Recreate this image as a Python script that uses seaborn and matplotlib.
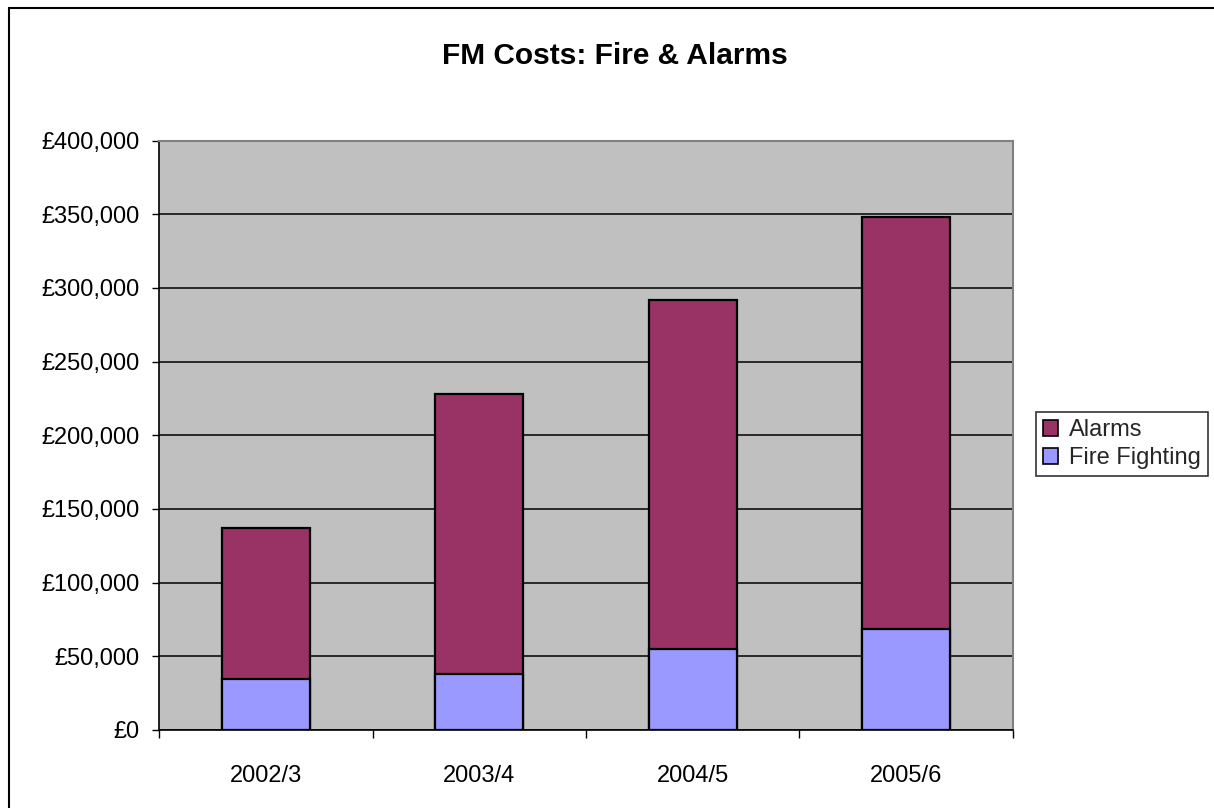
import matplotlib
matplotlib.use("Agg")
import matplotlib.pyplot as plt
import seaborn as sns
import pandas as pd
import numpy as np
from matplotlib.patches import Rectangle, Patch
from matplotlib.ticker import FuncFormatter, FixedLocator

# ---- data ----
years = ["2002/3", "2003/4", "2004/5", "2005/6"]
fire_fighting = [34800, 37800, 55200, 68800]
alarms = [102200, 190200, 236600, 279600]
series_names = ["Alarms", "Fire Fighting"]
y_ticks = [0, 50000, 100000, 150000, 200000, 250000, 300000, 350000, 400000]

sns.set_theme(style="white")
plt.rcParams['font.family'] = ['Liberation Sans', 'DejaVu Sans']

ALARM_C = "#993366"
FIRE_C = "#9999FF"

df = pd.DataFrame({"year": years,
                   "fire": fire_fighting,
                   "alarms": alarms})
df["total"] = df["fire"] + df["alarms"]

fig = plt.figure(figsize=(12.14, 8.08), dpi=100)
fig.patch.set_facecolor("white")
ax = fig.add_axes([159/1214, 1-730/808, (1013-159)/1214, (730-140.6)/808])
ax.set_facecolor("#C0C0C0")

sns.barplot(data=df, x="year", y="total", color=ALARM_C, saturation=1,
            width=0.41, edgecolor="black", linewidth=1.6, ax=ax, zorder=3)
sns.barplot(data=df, x="year", y="fire", color=FIRE_C, saturation=1,
            width=0.41, edgecolor="black", linewidth=1.6, ax=ax, zorder=4)

ax.set_xlim(-0.5, len(years) - 0.5)
ax.set_ylim(0, 400000)
ax.set_yticks(y_ticks)
ax.yaxis.set_major_formatter(FuncFormatter(lambda v, p: "£{:,.0f}".format(v)))
ax.grid(axis="y", color="black", linewidth=1.1, zorder=1)
ax.set_axisbelow(True)
ax.set_xlabel("")
ax.set_ylabel("")

FS = 17
ax.tick_params(axis="y", which="major", direction="out", length=5, width=1,
               color="black", left=True, labelsize=FS, pad=9, labelcolor="black")
ax.tick_params(axis="x", which="major", length=0, labelsize=FS, pad=25,
               labelcolor="black")
ax.xaxis.set_minor_locator(FixedLocator(np.arange(-0.5, len(years), 1.0)))
ax.tick_params(axis="x", which="minor", direction="out", length=6, width=1,
               color="black", bottom=True)

for s in ["top", "right"]:
    ax.spines[s].set_color("#808080")
    ax.spines[s].set_linewidth(1.5)
for s in ["left", "bottom"]:
    ax.spines[s].set_color("black")
    ax.spines[s].set_linewidth(1.2)

fig.text(615/1214, 1-56/808, "FM Costs: Fire & Alarms", ha="center", va="center",
         fontsize=21.5, fontweight="bold", color="black")

handles = [Patch(facecolor=ALARM_C, edgecolor="black", linewidth=1.2),
           Patch(facecolor=FIRE_C, edgecolor="black", linewidth=1.2)]
leg = fig.legend(handles, series_names, loc="lower left",
                 bbox_to_anchor=(1036/1214, 1-476/808), borderaxespad=0,
                 fontsize=FS, frameon=True, fancybox=False, edgecolor="black",
                 handlelength=0.65, handleheight=0.65, handletextpad=0.45,
                 borderpad=0.3, labelspacing=0.25)
leg.get_frame().set_linewidth(1.2)

fig.patches.append(Rectangle((9/1214, -0.1), 1.2, 1 - 8/808 + 0.1,
                             transform=fig.transFigure, fill=False,
                             edgecolor="black", linewidth=1.5))

fig.savefig("out.png", dpi=100)
